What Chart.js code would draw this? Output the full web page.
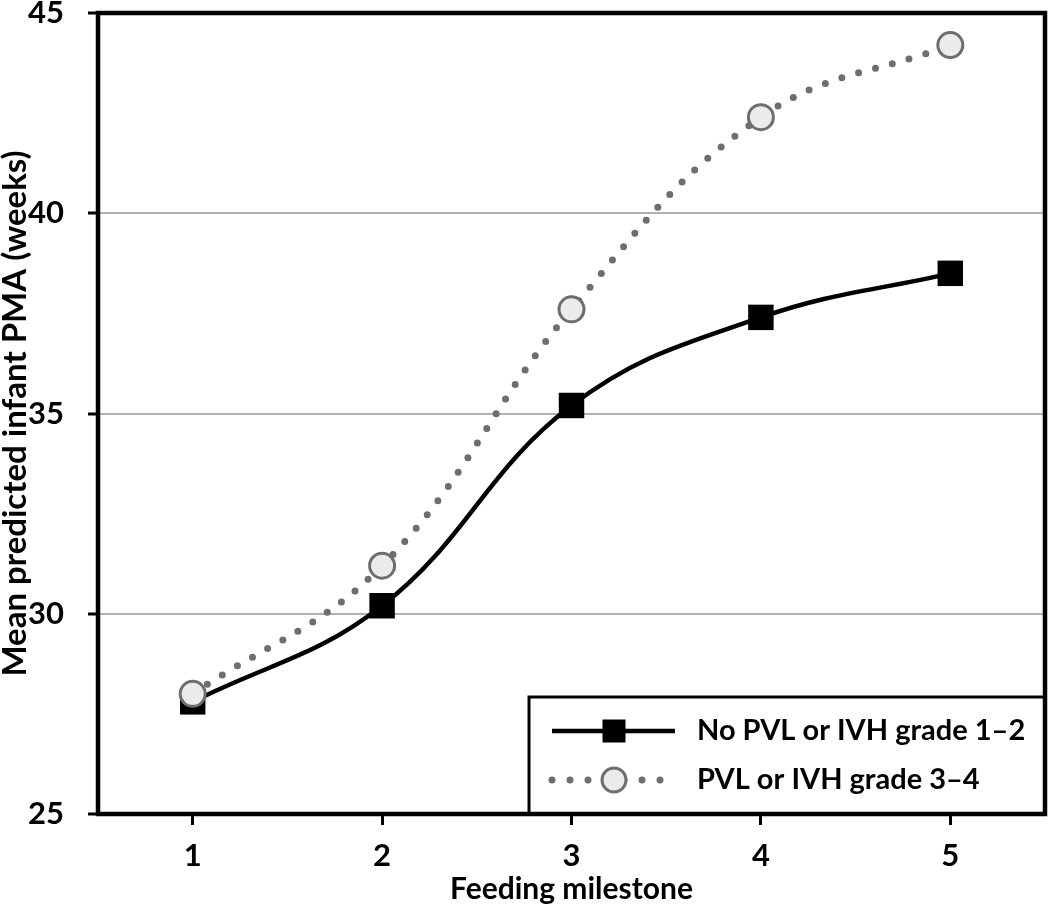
<!DOCTYPE html>
<html>
<head>
<meta charset="utf-8">
<script src="https://cdn.jsdelivr.net/npm/chart.js@4"></script>
<style>
html,body{margin:0;padding:0;background:#fff;}
#wrap{width:1050px;height:907px;}
</style>
</head>
<body>
<div id="wrap"><canvas id="c" width="1050" height="907"></canvas></div>
<script>
const categories = ['1', '2', '3', '4', '5'];
const noPvlValues = [27.8, 30.2, 35.2, 37.4, 38.5];
const pvlValues = [28.0, 31.2, 37.6, 42.4, 44.2];
const seriesNames = ['No PVL or IVH grade 1\u20132', 'PVL or IVH grade 3\u20134'];
const yTicks = [25, 30, 35, 40, 45];

const FONT = 'Lato, "Open Sans", sans-serif';

const framePlugin = {
  id: 'frame',
  afterDraw(chart) {
    const ctx = chart.ctx;
    const a = chart.chartArea;
    ctx.save();
    // legend box
    const bx = 529, by = 697, bw = a.right - bx, bh = a.bottom - by;
    ctx.fillStyle = '#fff';
    ctx.fillRect(bx, by, bw, bh);
    ctx.strokeStyle = '#000';
    ctx.lineWidth = 3;
    ctx.strokeRect(bx, by, bw, bh);
    // frame
    ctx.lineWidth = 4.5;
    ctx.strokeRect(a.left, a.top, a.right - a.left, a.bottom - a.top);
    // row 1
    const y1 = 731, y2 = 780, x0 = 552, x1 = 675, xm = 614;
    ctx.strokeStyle = '#000';
    ctx.lineWidth = 4.5;
    ctx.beginPath(); ctx.moveTo(x0, y1); ctx.lineTo(x1, y1); ctx.stroke();
    ctx.fillStyle = '#000';
    ctx.fillRect(xm - 11.5, y1 - 11.5, 23, 23);
    // row 2
    ctx.strokeStyle = '#6e6e6e';
    ctx.lineWidth = 7;
    ctx.lineCap = 'round';
    ctx.setLineDash([0, 18]);
    ctx.beginPath(); ctx.moveTo(x0, y2); ctx.lineTo(x1 + 2, y2); ctx.stroke();
    ctx.setLineDash([]);
    ctx.fillStyle = '#ebebeb';
    ctx.beginPath(); ctx.arc(xm, y2, 12, 0, Math.PI * 2); ctx.fill();
    ctx.lineWidth = 3;
    ctx.beginPath(); ctx.arc(xm, y2, 12, 0, Math.PI * 2); ctx.stroke();
    // texts
    ctx.fillStyle = '#000';
    ctx.font = 'bold 29px ' + FONT;
    ctx.textBaseline = 'middle';
    ctx.textAlign = 'left';
    ctx.fillText(seriesNames[0], 697, y1);
    ctx.fillText(seriesNames[1], 697, y2);
    ctx.restore();
  }
};

new Chart(document.getElementById('c'), {
  type: 'line',
  data: {
    labels: categories,
    datasets: [
      {
        label: seriesNames[0],
        data: noPvlValues,
        borderColor: '#000',
        borderWidth: 4.5,
        tension: 0.4,
        pointStyle: 'rect',
        pointRadius: 18,
        pointBackgroundColor: '#000',
        pointBorderColor: '#000',
        pointBorderWidth: 0,
        order: 1
      },
      {
        label: seriesNames[1],
        data: pvlValues,
        borderColor: '#6e6e6e',
        borderWidth: 7,
        borderDash: [0, 17.5],
        borderCapStyle: 'round',
        tension: 0.4,
        pointStyle: 'circle',
        pointRadius: 12.5,
        pointBackgroundColor: '#ebebeb',
        pointBorderColor: '#6e6e6e',
        pointBorderWidth: 3,
        order: 0
      }
    ]
  },
  options: {
    responsive: false,
    animation: false,
    devicePixelRatio: 1,
    layout: { autoPadding: false, padding: { top: 13, right: 5, left: 0, bottom: 0 } },
    plugins: {
      legend: { display: false },
      tooltip: { enabled: false }
    },
    scales: {
      x: {
        type: 'category',
        offset: true,
        grid: {
          offset: false,
          drawOnChartArea: false,
          drawTicks: true,
          tickLength: 11,
          tickWidth: 3,
          tickColor: '#000'
        },
        border: { display: false },
        ticks: {
          color: '#000',
          font: { family: FONT, size: 31, weight: 'bold' },
          padding: 12
        },
        title: {
          display: true,
          text: 'Feeding milestone',
          color: '#000',
          font: { family: FONT, size: 30, weight: 'bold' },
          padding: { top: -10, bottom: 0 }
        },
        afterFit(scale) {
          scale.height = 93;
          scale.paddingLeft = 0;
          scale.paddingRight = 0;
        }
      },
      y: {
        min: 25,
        max: 45,
        afterBuildTicks(scale) { scale.ticks = yTicks.map(v => ({ value: v })); },
        grid: {
          color: '#b0b0b0',
          lineWidth: 2,
          drawTicks: true,
          tickLength: 10,
          tickWidth: 3,
          tickColor: '#000'
        },
        border: { display: false },
        ticks: {
          color: '#000',
          font: { family: FONT, size: 31, weight: 'bold' },
          padding: 24
        },
        title: {
          display: true,
          text: 'Mean predicted infant PMA (weeks)',
          color: '#000',
          font: { family: FONT, size: 33, weight: 'bold' },
          padding: { top: -4, bottom: 0 }
        },
        afterFit(scale) {
          scale.width = 98;
          scale.paddingTop = 0;
          scale.paddingBottom = 0;
        }
      }
    }
  },
  plugins: [framePlugin]
});
</script>
</body>
</html>
